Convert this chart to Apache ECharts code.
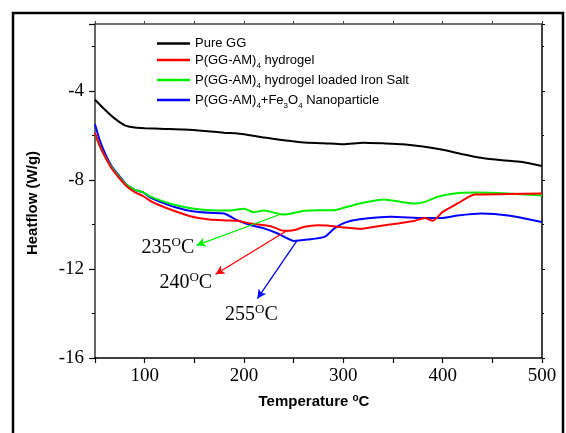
<!DOCTYPE html>
<html>
<head>
<meta charset="utf-8">
<script src="https://cdn.jsdelivr.net/npm/echarts@6/dist/echarts.min.js"></script>
<style>
html, body { margin: 0; padding: 0; background: #fff; }
#chart { width: 566px; height: 433px; }
</style>
</head>
<body>
<div id="chart"></div>
<script>
// temperature (°C), heatflow (W/g)
const pureGG = [[50,-4.4],[60,-4.85],[70,-5.25],[80,-5.55],[90,-5.65],[100,-5.68],[120,-5.71],[140,-5.74],[160,-5.8],[180,-5.88],[200,-5.95],[220,-6.1],[240,-6.22],[260,-6.32],[280,-6.35],[300,-6.4],[320,-6.33],[340,-6.36],[360,-6.4],[380,-6.5],[400,-6.65],[420,-6.85],[440,-7.02],[460,-7.12],[480,-7.2],[500,-7.38]];
const hydrogel = [[50,-5.9],[55,-6.5],[60,-6.95],[67,-7.5],[75,-7.95],[81,-8.25],[90,-8.55],[98,-8.72],[106,-8.95],[115,-9.14],[130,-9.4],[148,-9.66],[165,-9.78],[182,-9.82],[193,-9.84],[207,-9.96],[227,-10.08],[240,-10.29],[250,-10.26],[261,-10.11],[274,-10.04],[284,-10.05],[301,-10.14],[318,-10.2],[335,-10.08],[355,-9.96],[372,-9.84],[382,-9.71],[390,-9.84],[400,-9.44],[415,-9.06],[432,-8.66],[466,-8.64],[500,-8.61]];
const ironSalt = [[50,-5.95],[55,-6.5],[60,-6.95],[67,-7.45],[75,-7.9],[81,-8.2],[90,-8.45],[98,-8.55],[106,-8.75],[115,-8.91],[130,-9.12],[148,-9.29],[165,-9.37],[183,-9.38],[200,-9.3],[210,-9.45],[220,-9.38],[240,-9.56],[261,-9.39],[274,-9.36],[291,-9.36],[304,-9.21],[321,-9.02],[341,-8.88],[358,-8.99],[372,-9.06],[382,-8.99],[395,-8.76],[412,-8.61],[432,-8.57],[466,-8.61],[500,-8.7]];
const nanoparticle = [[50,-5.5],[55,-6.25],[60,-6.8],[67,-7.4],[75,-7.85],[81,-8.18],[90,-8.45],[98,-8.55],[106,-8.8],[115,-8.98],[130,-9.22],[148,-9.41],[165,-9.48],[180,-9.51],[193,-9.81],[207,-10.04],[220,-10.18],[234,-10.41],[250,-10.74],[264,-10.68],[281,-10.56],[291,-10.18],[301,-9.93],[315,-9.78],[348,-9.66],[382,-9.71],[399,-9.71],[415,-9.6],[439,-9.51],[466,-9.6],[500,-9.89]];

const seriesNames = ['Pure GG', 'P(GG-AM)4 hydrogel', 'P(GG-AM)4 hydrogel loaded Iron Salt', 'P(GG-AM)4+Fe3O4 Nanoparticle'];
const legendLabels = [
    '{p|Pure GG}',
    '{a|P(GG-AM)}{s|4}{a| hydrogel}',
    '{a|P(GG-AM)}{s|4}{a| hydrogel loaded Iron Salt}',
    '{a|P(GG-AM)}{s|4}{a|+Fe}{s|3}{a|O}{s|4}{a| Nanoparticle}'
];
const colors = ['#000000', '#ff0000', '#00ee00', '#0000ff'];

// annotation arrows: [from, to] and the temperature label
const arrowLines = [null, [[243.8,-10.26],[171.4,-12.24]], [[238.8,-9.51],[152.2,-10.94]], [[253.2,-10.74],[213.5,-13.33]]];
const peakLabels = [null, '240', '235', '255'];
const peakLabelPos = [null, [141.4,-12.64], [123.4,-11.07], [207.5,-14.08]];

const serif = 'Liberation Serif';
const sans = 'Liberation Sans';

const chart = echarts.init(document.getElementById('chart'));

const lineData = [pureGG, hydrogel, ironSalt, nanoparticle];
const series = lineData.map(function (data, i) {
    const s = {
        name: seriesNames[i],
        type: 'line',
        data: data,
        symbol: 'none',
        smooth: 0.2,
        lineStyle: { color: colors[i], width: 2 },
        itemStyle: { color: colors[i] },
        z: 4 - i
    };
    if (arrowLines[i]) {
        s.markLine = {
            silent: true,
            symbol: ['none', 'arrow'],
            symbolSize: [7, 9],
            label: { show: false },
            lineStyle: { color: colors[i], width: 1.3, type: 'solid' },
            data: [[{ coord: arrowLines[i][0] }, { coord: arrowLines[i][1] }]]
        };
        s.markPoint = {
            silent: true,
            symbol: 'circle',
            symbolSize: 0,
            data: [{ coord: peakLabelPos[i] }],
            label: {
                show: true,
                position: 'inside',
                formatter: '{n|' + peakLabels[i] + '}{o|O}{n|C}',
                rich: {
                    n: { fontFamily: serif, fontSize: 20, color: '#000', lineHeight: 24 },
                    o: { fontFamily: serif, fontSize: 13, color: '#000', lineHeight: 10, verticalAlign: 'top' }
                }
            }
        };
    }
    return s;
});

const xTicks = { show: true, length: 5, lineStyle: { color: '#000', width: 1.2 } };
const yTicks = { show: true, length: 6, lineStyle: { color: '#000', width: 1.2 } };

chart.setOption({
    animation: false,
    color: colors,
    grid: { left: 95, right: 24, top: 24, bottom: 75, containLabel: false },
    legend: {
        orient: 'vertical',
        left: 157,
        top: 37,
        padding: 0,
        itemGap: 3.5,
        itemWidth: 33,
        itemHeight: 2.5,
        icon: 'rect',
        data: seriesNames,
        formatter: function (name) {
            return legendLabels[seriesNames.indexOf(name)];
        },
        textStyle: {
            color: '#000',
            rich: {
                p: { fontFamily: sans, fontSize: 13, color: '#000', lineHeight: 12 },
                a: { fontFamily: sans, fontSize: 13, color: '#000', lineHeight: 20 },
                s: { fontFamily: sans, fontSize: 8, color: '#000', lineHeight: 10, verticalAlign: 'bottom' }
            }
        }
    },
    xAxis: [{
        type: 'value',
        min: 50,
        max: 500,
        interval: 50,
        axisLine: { lineStyle: { color: '#000', width: 1.5 } },
        axisTick: xTicks,
        splitLine: { show: false },
        axisLabel: {
            margin: 9,
            fontFamily: serif,
            fontSize: 19,
            color: '#000',
            formatter: function (v) { return v % 100 === 0 ? String(v) : ''; }
        }
    }, {
        type: 'value',
        position: 'top',
        min: 50,
        max: 500,
        interval: 50,
        axisLine: { show: true, lineStyle: { color: '#444', width: 1.5 } },
        axisTick: { show: true, length: 3, lineStyle: { color: '#444' } },
        axisLabel: { show: false },
        splitLine: { show: false }
    }],
    yAxis: [{
        type: 'value',
        min: -16,
        max: -1,
        interval: 4,
        axisLine: { show: true, lineStyle: { color: '#333', width: 1.5 } },
        axisTick: yTicks,
        minorTick: { show: true, splitNumber: 2, length: 3, lineStyle: { color: '#000' } },
        splitLine: { show: false },
        axisLabel: {
            margin: 11,
            fontFamily: serif,
            fontSize: 19,
            color: '#000',
            showMaxLabel: false,
            formatter: function (v) { return v % 4 === 0 ? String(v) : ''; }
        }
    }, {
        type: 'value',
        position: 'right',
        min: -16,
        max: -1,
        interval: 4,
        axisLine: { show: true, lineStyle: { color: '#000', width: 1.5 } },
        axisTick: { show: true, length: 3, lineStyle: { color: '#000' } },
        minorTick: { show: true, splitNumber: 2, length: 2, lineStyle: { color: '#000' } },
        axisLabel: { show: false },
        splitLine: { show: false }
    }],
    graphic: [{
        type: 'rect',
        shape: { x: 13, y: 13, width: 550, height: 440 },
        style: { fill: 'none', stroke: '#000', lineWidth: 2.5 },
        silent: true
    }, {
        type: 'text',
        x: 33,
        y: 203,
        rotation: Math.PI / 2,
        style: {
            text: 'Heatflow (W/g)',
            font: 'bold 15px ' + sans,
            fill: '#000',
            align: 'center',
            verticalAlign: 'middle'
        }
    }, {
        type: 'text',
        x: 314,
        y: 402,
        style: {
            text: '{t|Temperature }{o|o}{t|C}',
            align: 'center',
            verticalAlign: 'middle',
            rich: {
                t: { fontFamily: sans, fontWeight: 'bold', fontSize: 15, lineHeight: 18, fill: '#000' },
                o: { fontFamily: sans, fontWeight: 'bold', fontSize: 10, lineHeight: 10, verticalAlign: 'top', fill: '#000' }
            }
        }
    }],
    series: series
});
</script>
</body>
</html>
